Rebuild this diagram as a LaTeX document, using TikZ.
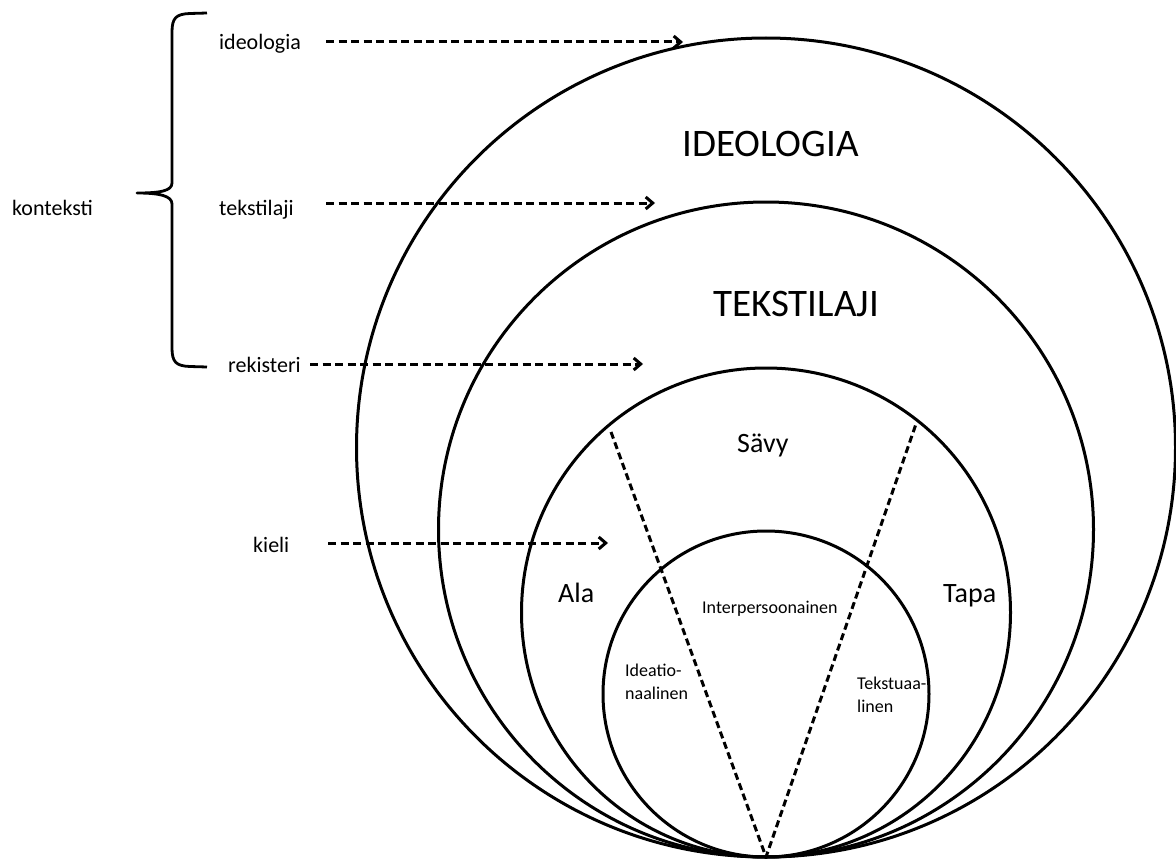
\documentclass[tikz,border=0pt]{standalone}
\usepackage{fontspec}
\setmainfont{Carlito}
\usepackage{tikz}
\usetikzlibrary{arrows.meta,positioning}

\begin{document}
\begin{tikzpicture}[
    x=1pt, y=-1pt,
    ring/.style={circle, draw, line width=3pt, inner sep=0pt},
    side/.style={anchor=base west, inner sep=0pt, font=\fontsize{22}{26}\selectfont},
    big/.style={anchor=base west, inner sep=0pt, font=\fontsize{39}{44}\selectfont},
    mid/.style={anchor=base west, inner sep=0pt, font=\fontsize{28}{32}\selectfont},
    small/.style={anchor=base west, inner sep=0pt, align=left, font=\fontsize{18}{23}\selectfont},
    darrow/.style={-{Straight Barb[length=7pt,width=12pt]}, line width=3pt, dash pattern=on 8pt off 4.5pt},
    divider/.style={line width=3pt, dash pattern=on 7pt off 4pt},
    brace/.style={line width=2.8pt, line join=round}
]
    \useasboundingbox (0,0) rectangle (1176,859);

    \node[ring, minimum size=819pt] (ideoc) at (766,447.5) {};
    \node[ring, minimum size=655pt] (tekc) at (766,529.5) {};
    \node[ring, minimum size=489pt] (rekc) at (766,612.5) {};
    \node[ring, minimum size=326pt] (kielic) at (766,694) {};

    \coordinate (bot) at (766,857);
    \coordinate (divL) at (611,432);
    \coordinate (divR) at (916,424);
    \draw[divider] (divL) -- (bot) -- (divR);

    \node[big] (ideoT) at (682,156) {IDEOLOGIA};
    \node[big] (tekT) at (713,316) {TEKSTILAJI};
    \node[mid] (savy) at (737,452) {Sävy};
    \node[mid] (ala) at (558,602) {Ala};
    \node[mid] (tapa) at (943,602) {Tapa};
    \node[small] (inter) at (702,613) {Interpersoonainen};
    \node[small] (ideat) at (625,699) {Ideatio-\\naalinen};
    \node[small] (tekst) at (857,712) {Tekstuaa-\\linen};

    \node[side] (konteksti) at (12,215) {konteksti};
    \node[side] (ideo) at (219,50) {ideologia};
    \node[side] (teksti) at (219,215) {tekstilaji};
    \node[side] (reki) at (228,372) {rekisteri};
    \node[side] (kieli) at (253,552) {kieli};

    \coordinate (ideoS) at (326,42);   \coordinate (ideoE) at (683,42);
    \coordinate (tekS) at (326,203);   \coordinate (tekE) at (655,203);
    \coordinate (rekS) at (310,364);   \coordinate (rekE) at (643,364);
    \coordinate (kieS) at (328,543);   \coordinate (kieE) at (608,543);
    \draw[darrow] (ideoS) -- (ideoE);
    \draw[darrow] (tekS) -- (tekE);
    \draw[darrow] (rekS) -- (rekE);
    \draw[darrow] (kieS) -- (kieE);

    \draw[brace] (207,13) -- (190,13.5) .. controls (176,14) and (172,18) .. (172,32)
        -- (172,183) .. controls (172,191) and (160,193) .. (137,193)
        .. controls (160,193) and (172,196) .. (172,204)
        -- (172,348) .. controls (172,362) and (176,366) .. (190,366.5) -- (207,367);
\end{tikzpicture}
\end{document}
